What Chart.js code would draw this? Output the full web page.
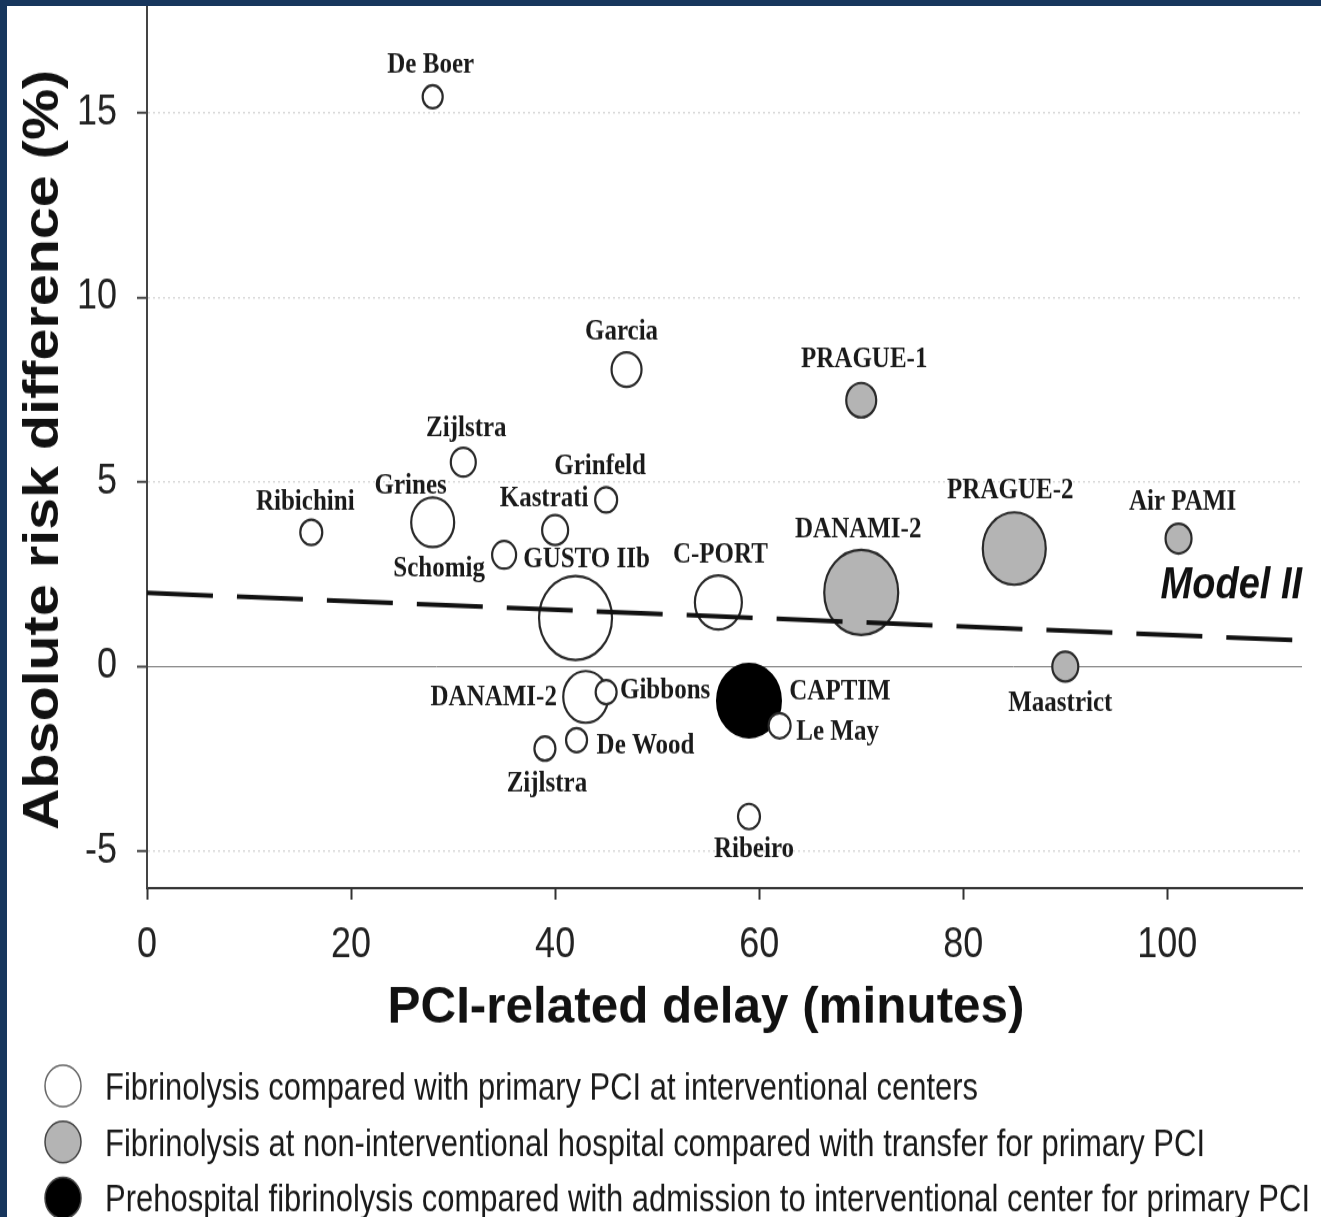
<!DOCTYPE html>
<html>
<head>
<meta charset="utf-8">
<script src="https://cdn.jsdelivr.net/npm/chart.js@4.4.1/dist/chart.umd.min.js"></script>
<style>
  body { margin: 0; background: #17365d; width: 1321px; height: 1217px; overflow: hidden; }
  #wrap { position: absolute; left: 7px; top: 6px; width: 1314px; height: 1211px; background: #fff; overflow: hidden; }
</style>
</head>
<body>
<!-- the original figure is stretched vertically, so the canvas is stretched too -->
<div id="wrap"><canvas id="chart" width="1314" height="1053" style="width:1314px;height:1211px;"></canvas></div>
<script>
// === DATA ===
const delayTicks = [0, 20, 40, 60, 80, 100];
const diffTicks = [-5, 0, 5, 10, 15];

// fibrinolysis vs primary PCI at interventional centers (open circles)
const openNames = ['De Boer', 'Garcia', 'Zijlstra', 'Grinfeld', 'Ribichini', 'Grines', 'Kastrati', 'Schomig',
  'GUSTO IIb', 'C-PORT', 'DANAMI-2', 'Gibbons', 'Le May', 'De Wood', 'Zijlstra', 'Ribeiro'];
const openDelay = [28.0, 47.0, 31.0, 45.0, 16.1, 28.0, 40.0, 35.0, 42.0, 56.0, 43.0, 45.0, 62.0, 42.1, 39.0, 59.0];
const openDiff = [15.44, 8.05, 5.54, 4.52, 3.64, 3.91, 3.70, 3.03, 1.32, 1.74, -0.82, -0.69, -1.60, -1.99, -2.22, -4.06];
const openSize = [10, 15, 12.5, 11, 11, 21.5, 13, 12, 36.5, 23.5, 22.5, 10.5, 11, 10.5, 10.5, 11];

// fibrinolysis at non-interventional hospital vs transfer (grey circles)
const greyNames = ['PRAGUE-1', 'DANAMI-2', 'PRAGUE-2', 'Air PAMI', 'Maastrict'];
const greyDelay = [70.0, 70.0, 85.0, 101.1, 90.0];
const greyDiff = [7.22, 2.01, 3.20, 3.47, 0.0];
const greySize = [15, 37, 31.5, 13, 13];

// prehospital fibrinolysis (black circle)
const blackNames = ['CAPTIM'];
const blackDelay = [59.0];
const blackDiff = [-0.92];
const blackSize = [32];

// Model II regression line (ends of the line)
const modelDelay = [0, 113.2];
const modelDiff = [2.0, 0.71];

const legendLabels = [
  'Fibrinolysis compared with primary PCI at interventional centers',
  'Fibrinolysis at non-interventional hospital compared with transfer for primary PCI',
  'Prehospital fibrinolysis compared with admission to interventional center for primary PCI'
];

// === LABEL PLACEMENT (offsets from each point, canvas px) ===
const openLabelPos = [[-2, -27], [-5, -33], [3, -29], [-6, -29], [-6, -26], [-22, -31], [-11, -27], [-65, 12],
  [11, -51], [2, -41], [-92, 1], [59, -1], [58, 6], [69, 5], [2, 31], [5, 29]];
const greyLabelPos = [[3, -35], [-3, -54], [-4, -50], [4, -32], [-5, 32]];
const blackLabelPos = [[91, -7]];

const SANS = '"Liberation Sans", Arial, Helvetica, sans-serif';
const SERIF = '"Liberation Serif", "Times New Roman", serif';
const strokeCol = '#2a2a2a';
const fills = ['#ffffff', '#b4b4b4', '#000000'];

const toPoints = (xs, ys, rs) => xs.map((x, i) => ({ x: x, y: ys[i], r: rs ? rs[i] : undefined }));

// draw text squeezed/stretched to a given width
function fitText(ctx, text, x, y, width) {
  const w = ctx.measureText(text).width;
  ctx.save();
  ctx.translate(x, y);
  ctx.scale(width / w, 1);
  ctx.fillText(text, 0, 0);
  ctx.restore();
}

const labelGroups = [
  { names: openNames, pos: openLabelPos },
  { names: greyNames, pos: greyLabelPos },
  { names: blackNames, pos: blackLabelPos }
];

const annotations = {
  id: 'annotations',
  afterDatasetsDraw(chart) {
    const ctx = chart.ctx;
    const area = chart.chartArea;
    ctx.save();

    // trial names
    ctx.font = 'bold 25px ' + SERIF;
    ctx.fillStyle = '#1a1a1a';
    ctx.textAlign = 'center';
    ctx.textBaseline = 'middle';
    labelGroups.forEach((g, i) => {
      chart.getDatasetMeta(i).data.forEach((pt, j) => {
        ctx.fillText(g.names[j], pt.x + g.pos[j][0], pt.y + g.pos[j][1]);
      });
    });

    // Model II tag at the end of the line
    const lineMeta = chart.getDatasetMeta(3).data;
    const end = lineMeta[lineMeta.length - 1];
    ctx.font = 'italic bold 38px ' + SANS;
    ctx.fillStyle = '#111';
    ctx.textAlign = 'right';
    ctx.fillText('Model II', area.right, end.y - 47);

    // axis titles
    ctx.textAlign = 'center';
    ctx.fillStyle = '#111';
    ctx.font = 'bold 45px ' + SANS;
    ctx.textBaseline = 'alphabetic';
    fitText(ctx, 'PCI-related delay (minutes)', 699, 884, 637);

    ctx.save();
    ctx.translate(37, 386);
    ctx.rotate(-Math.PI / 2);
    ctx.font = 'bold 50px ' + SANS;
    ctx.textBaseline = 'middle';
    fitText(ctx, 'Absolute risk difference (%)', 0, 0, 661);
    ctx.restore();

    // legend
    legendLabels.forEach((txt, i) => {
      const cy = 939 + i * 48.7;
      ctx.beginPath();
      ctx.arc(56, cy, 18, 0, Math.PI * 2);
      ctx.fillStyle = fills[i];
      ctx.fill();
      ctx.lineWidth = 1.5;
      ctx.strokeStyle = i === 0 ? '#666' : '#444';
      ctx.stroke();
      ctx.fillStyle = '#1a1a1a';
      ctx.font = '33px ' + SANS;
      ctx.textAlign = 'left';
      ctx.textBaseline = 'alphabetic';
      fitText(ctx, txt, 98, cy + 12, [873, 1100, 1205][i]);
    });
    ctx.restore();
  }
};

// === CREATE CHART ===
const ctx = document.getElementById('chart').getContext('2d');
new Chart(ctx, {
  type: 'bubble',
  data: {
    datasets: [
      {
        label: 'Interventional centers',
        data: toPoints(openDelay, openDiff, openSize),
        backgroundColor: fills[0],
        borderColor: strokeCol,
        borderWidth: 2.2,
        order: 1
      },
      {
        label: 'Transfer for primary PCI',
        data: toPoints(greyDelay, greyDiff, greySize),
        backgroundColor: fills[1],
        borderColor: strokeCol,
        borderWidth: 2.2,
        order: 2
      },
      {
        label: 'Prehospital fibrinolysis',
        data: toPoints(blackDelay, blackDiff, blackSize),
        backgroundColor: fills[2],
        borderColor: '#000',
        borderWidth: 2,
        order: 3
      },
      {
        type: 'line',
        label: 'Model II',
        data: modelDelay.map((x, i) => ({ x: x, y: modelDiff[i] })),
        borderColor: '#111',
        borderWidth: 4,
        borderDash: [66, 24],
        pointRadius: 0,
        fill: false,
        order: 0
      }
    ]
  },
  options: {
    responsive: false,
    animation: false,
    events: [],
    layout: { autoPadding: false, padding: { top: 0, right: 19, left: 0, bottom: 0 } },
    plugins: {
      legend: { display: false },
      tooltip: { enabled: false }
    },
    scales: {
      x: {
        type: 'linear',
        min: 0,
        max: 113.2,
        afterBuildTicks: (scale) => { scale.ticks = delayTicks.map(v => ({ value: v })); },
        afterFit: (scale) => { scale.height = 286; scale.paddingLeft = 0; scale.paddingRight = 0; },
        grid: { drawOnChartArea: false, tickLength: 10, tickColor: '#333', tickWidth: 2 },
        border: { color: '#333', width: 2 },
        ticks: { color: '#222', padding: 18, maxRotation: 0, font: { family: SANS, size: 36 } }
      },
      y: {
        type: 'linear',
        min: -6,
        max: 17.9,
        afterBuildTicks: (scale) => { scale.ticks = diffTicks.map(v => ({ value: v })); },
        afterFit: (scale) => { scale.width = 140; scale.paddingTop = 0; scale.paddingBottom = 0; },
        grid: {
          color: (c) => (c.tick && c.tick.value === 0 ? '#777' : '#dadada'),
          lineWidth: (c) => (c.tick && c.tick.value === 0 ? 1 : 1.5),
          tickLength: 10,
          tickColor: '#444',
          tickWidth: 2
        },
        border: {
          color: '#444',
          width: 2,
          dash: (c) => (c.tick && c.tick.value === 0 ? [] : [2, 3])
        },
        ticks: { color: '#222', padding: 20, font: { family: SANS, size: 36 } }
      }
    }
  },
  plugins: [annotations]
});
</script>
</body>
</html>
